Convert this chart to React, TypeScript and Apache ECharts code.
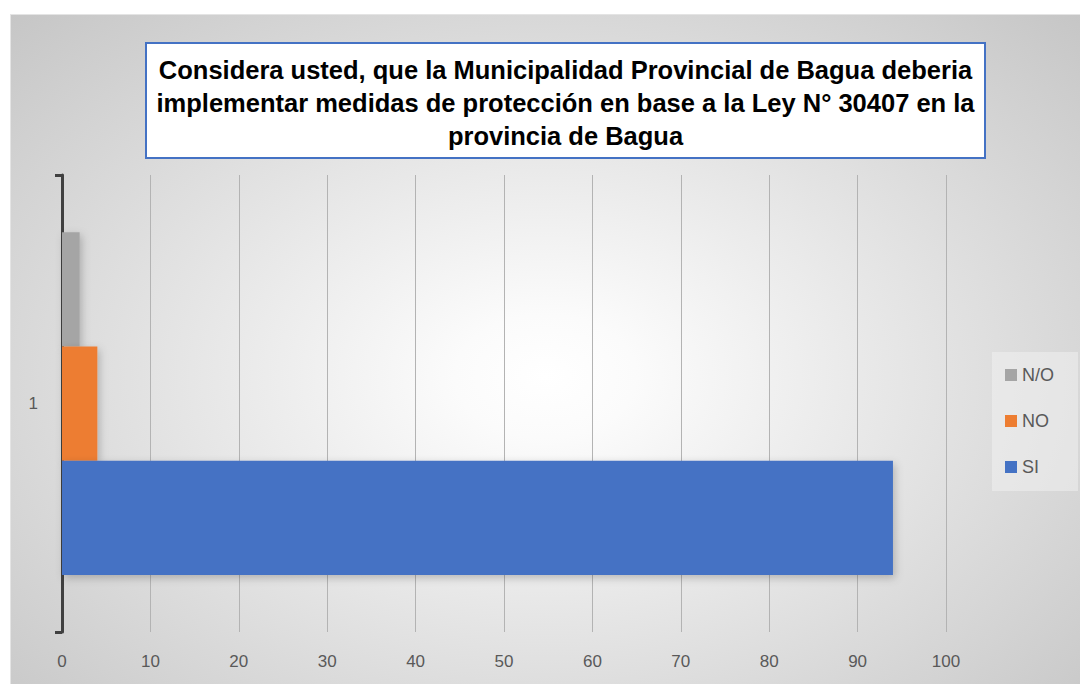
import React, { useEffect, useRef } from "react";
import * as echarts from "echarts";

const categories = ["1"];
const siValues = [94];
const noValues = [4];
const noOpinionValues = [2];
const legendOrder = ["N/O", "NO", "SI"];
const titleLines = [
  "Considera usted, que la Municipalidad Provincial de Bagua deberia",
  "implementar medidas de protección en base a la Ley N° 30407 en la",
  "provincia de Bagua",
];

const FONT = "'Liberation Sans', Arial, sans-serif";

export default function App() {
  const ref = useRef<HTMLDivElement>(null);
  useEffect(() => {
    if (!ref.current) return;
    const chart = echarts.init(ref.current, undefined, { renderer: "svg" });
    const shadow = {
      shadowBlur: 8,
      shadowColor: "rgba(0,0,0,0.22)",
      shadowOffsetX: 2,
      shadowOffsetY: 3,
    };
    chart.setOption({
      animation: false,
      backgroundColor: "transparent",
      textStyle: { fontFamily: FONT },
      grid: { left: 62, right: 134, top: 175, bottom: 52, containLabel: false },
      xAxis: {
        type: "value",
        min: 0,
        max: 100,
        interval: 10,
        axisLine: { show: false },
        axisTick: { show: false },
        axisLabel: { color: "#595959", fontSize: 17, margin: 21, fontFamily: FONT },
        splitLine: { show: true, lineStyle: { color: "#b3b3b3", width: 1 } },
      },
      yAxis: {
        type: "category",
        data: categories,
        axisLine: { show: true, lineStyle: { color: "#404040", width: 3 } },
        axisTick: { show: true, length: 7, lineStyle: { color: "#404040", width: 3 } },
        axisLabel: { color: "#595959", fontSize: 17, margin: 24, fontFamily: FONT },
        splitLine: { show: false },
      },
      legend: {
        orient: "vertical",
        left: 992,
        top: 352,
        data: legendOrder,
        icon: "rect",
        itemWidth: 12,
        itemHeight: 12,
        itemGap: 28,
        padding: [14, 24, 15, 13],
        backgroundColor: "rgba(240,240,240,0.55)",
        textStyle: { color: "#595959", fontSize: 18, fontFamily: FONT },
      },
      series: [
        {
          name: "N/O",
          type: "bar",
          data: noOpinionValues,
          barGap: "0%",
          barCategoryGap: "25%",
          itemStyle: { color: "#A5A5A5", ...shadow },
        },
        {
          name: "NO",
          type: "bar",
          data: noValues,
          barGap: "0%",
          barCategoryGap: "25%",
          itemStyle: { color: "#ED7D31", ...shadow },
        },
        {
          name: "SI",
          type: "bar",
          data: siValues,
          barGap: "0%",
          barCategoryGap: "25%",
          itemStyle: { color: "#4472C4", ...shadow },
        },
      ],
      graphic: [
        {
          type: "rect",
          z: 10,
          shape: { x: 146, y: 43, width: 839, height: 115 },
          style: { fill: "#ffffff", stroke: "#4472C4", lineWidth: 2 },
        },
        {
          type: "text",
          z: 11,
          x: 565.5,
          y: 103,
          style: {
            text: titleLines.join("\n"),
            textAlign: "center",
            textVerticalAlign: "middle",
            fontFamily: FONT,
            fontWeight: "bold",
            fontSize: 25.5,
            lineHeight: 33,
            fill: "#000000",
          },
        },
      ],
    });
    return () => chart.dispose();
  }, []);

  return (
    <div
      style={{
        position: "fixed",
        left: 0,
        top: 0,
        width: 1080,
        height: 684,
        background: "#ffffff",
        overflow: "hidden",
      }}
    >
      <div
        style={{
          position: "absolute",
          left: 10,
          top: 14,
          width: 1070,
          height: 670,
          boxSizing: "border-box",
          borderLeft: "1px solid #e4e4e4",
          borderTop: "1px solid #e4e4e4",
          background:
            "radial-gradient(ellipse farthest-corner at 50% 54%, #ffffff 0%, #fbfbfb 12%, #c6c6c6 100%)",
        }}
      />
      <div ref={ref} style={{ position: "absolute", left: 0, top: 0, width: 1080, height: 684 }} />
    </div>
  );
}
